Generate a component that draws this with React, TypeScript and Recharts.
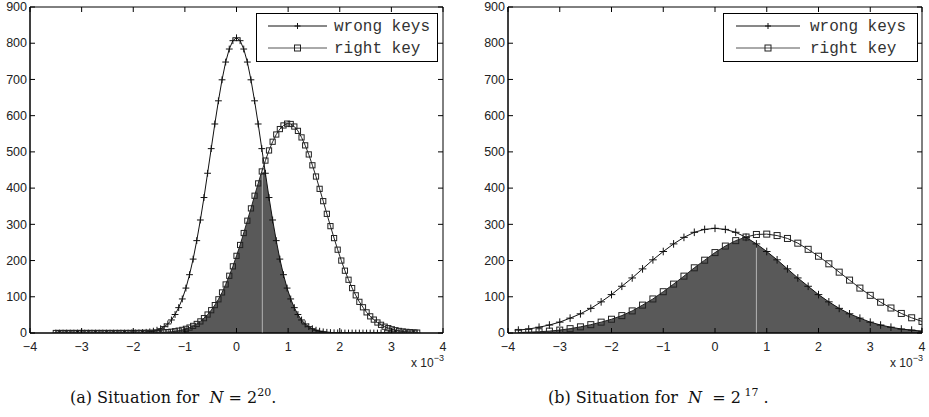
import React from "react";
import {
  ComposedChart, Line, Area, XAxis, YAxis,
  ReferenceLine, ReferenceArea
} from "recharts";

// (a) N = 2^20, x in units of 1e-3
const leftX = [
  -3.5, -3.43, -3.36, -3.29, -3.22, -3.15, -3.08, -3.01, -2.94, -2.87,
  -2.8, -2.73, -2.66, -2.59, -2.52, -2.45, -2.38, -2.31, -2.24, -2.17,
  -2.1, -2.03, -1.96, -1.89, -1.82, -1.75, -1.68, -1.61, -1.54, -1.47,
  -1.4, -1.33, -1.26, -1.19, -1.12, -1.05, -0.98, -0.91, -0.84, -0.77,
  -0.7, -0.63, -0.56, -0.49, -0.42, -0.35, -0.28, -0.21, -0.14, -0.07,
  0,
  0.07, 0.14, 0.21, 0.28, 0.35, 0.42, 0.49, 0.56, 0.63, 0.7,
  0.77, 0.84, 0.91, 0.98, 1.05, 1.12, 1.19, 1.26, 1.33, 1.4,
  1.47, 1.54, 1.61, 1.68, 1.75, 1.82, 1.89, 1.96, 2.03, 2.1,
  2.17, 2.24, 2.31, 2.38, 2.45, 2.52, 2.59, 2.66, 2.73, 2.8,
  2.87, 2.94, 3.01, 3.08, 3.15, 3.22, 3.29, 3.36, 3.43, 3.5,
];
const leftWrong = [
  0, 0, 0, 0, 0, 0, 0, 0, 0, 0,
  0, 0, 0, 0, 0, 0, 0, 0, 0, 0,
  0.1, 0.3, 0.4, 0.7, 1.2, 2, 3.2, 5.1, 7.8, 11.8,
  17.5, 25, 36, 51, 70, 94, 124, 161, 204, 255,
  312, 374, 441, 509, 577, 641, 699, 748, 784, 807,
  815,
  807, 784, 748, 699, 641, 577, 509, 441, 374, 312,
  255, 204, 161, 124, 94, 70, 51, 36, 25, 17.5,
  11.8, 7.8, 5.1, 3.2, 2, 1.2, 0.7, 0.4, 0.3, 0.1,
  0, 0, 0, 0, 0, 0, 0, 0, 0, 0,
  0, 0, 0, 0, 0, 0, 0, 0, 0, 0,
];
const leftRight = [
  0, 0, 0, 0, 0, 0, 0, 0, 0, 0,
  0, 0, 0, 0, 0, 0, 0, 0, 0, 0,
  0, 0, 0.1, 0.1, 0.2, 0.3, 0.4, 0.6, 0.9, 1.3,
  1.8, 2.5, 3.5, 4.8, 6.5, 8.6, 11.5, 15, 19.6, 25,
  32, 41, 51, 63, 77, 93, 112, 134, 158, 184,
  213,
  243, 276, 310, 344, 379, 413, 446, 476, 504, 528,
  548, 563, 573, 578, 577, 570, 558, 540, 518, 493,
  463, 432, 398, 364, 329, 295, 262, 230, 200, 172,
  147, 124, 104, 86, 71, 57, 46, 37, 29, 22.6,
  17.5, 13.4, 10.2, 7.6, 5.7, 4.2, 3.1, 2.2, 1.6, 1.1,
];
const leftCut = { x: 0.5, y: 450 };

// (b) N = 2^17
const rightX = [
  -3.8, -3.6, -3.4, -3.2, -3, -2.8, -2.6, -2.4, -2.2, -2,
  -1.8, -1.6, -1.4, -1.2, -1, -0.8, -0.6, -0.4, -0.2, 0,
  0.2, 0.4, 0.6, 0.8, 1, 1.2, 1.4, 1.6, 1.8, 2,
  2.2, 2.4, 2.6, 2.8, 3, 3.2, 3.4, 3.6, 3.8, 4,
];
const rightWrong = [
  8, 11, 16, 22, 30, 41, 53, 68, 86, 106,
  129, 152, 177, 202, 225, 246, 264, 278, 286, 289,
  286, 278, 264, 246, 225, 202, 177, 152, 129, 106,
  86, 68, 53, 41, 30, 22, 16, 11, 8, 5,
];
const rightRight = [
  1.5, 2.3, 3.5, 5.2, 8, 12, 17, 23, 30, 38,
  48, 61, 77, 94, 114, 135, 157, 180, 201, 222,
  240, 255, 265, 272, 273, 269, 261, 248, 231, 212,
  191, 168, 146, 124, 104, 85, 69, 54, 42, 32,
];
const rightCut = { x: 0.8, y: 246 };

const xTicks = [-4, -3, -2, -1, 0, 1, 2, 3, 4];
const yTicks = [0, 100, 200, 300, 400, 500, 600, 700, 800, 900];

const TICK = 5;
const AXIS_FONT = '"Liberation Sans", Arial, sans-serif';
const SHADE = "#595959";

function buildRows(xs: number[], wrong: number[], right: number[]) {
  return xs.map((x, i) => ({
    x,
    wrong: wrong[i],
    right: right[i],
    overlap: Math.min(wrong[i], right[i]),
  }));
}

function fmt(v: number) {
  return v < 0 ? `\u2212${Math.abs(v)}` : `${v}`;
}

function PlusMark({ cx, cy, r = 3.4 }: { cx: number; cy: number; r?: number }) {
  return (
    <path d={`M${cx - r},${cy}H${cx + r}M${cx},${cy - r}V${cy + r}`} stroke="#111" strokeWidth={1} fill="none" />
  );
}

function SquareMark({ cx, cy, r = 2.7 }: { cx: number; cy: number; r?: number }) {
  return (
    <rect x={cx - r} y={cy - r} width={2 * r} height={2 * r} stroke="#222" strokeWidth={1} fill="none" />
  );
}

const makeXTick = (top: number) => (p: any) => (
  <g>
    <line x1={p.x} y1={p.y} x2={p.x} y2={p.y - TICK} stroke="#000" />
    <line x1={p.x} y1={top} x2={p.x} y2={top + TICK} stroke="#000" />
    <text x={p.x} y={p.y + 18} textAnchor="middle" fontSize={12.5} fontFamily={AXIS_FONT} fill="#222">
      {fmt(p.payload.value)}
    </text>
  </g>
);

const makeYTick = (right: number) => (p: any) => (
  <g>
    <line x1={p.x} y1={p.y} x2={p.x + TICK} y2={p.y} stroke="#000" />
    <line x1={right} y1={p.y} x2={right - TICK} y2={p.y} stroke="#000" />
    <text x={p.x - 3} y={p.y} dy="0.34em" textAnchor="end" fontSize={12.5} fontFamily={AXIS_FONT} fill="#222">
      {fmt(p.payload.value)}
    </text>
  </g>
);

interface PanelProps {
  rows: ReturnType<typeof buildRows>;
  cut: { x: number; y: number };
  width: number;
  height: number;
  margin: { top: number; right: number; bottom: number; left: number };
  yAxisWidth: number;
  markSize: number;
}

function Panel({ rows, cut, width, height, margin, yAxisWidth, markSize }: PanelProps) {
  const right = width - margin.right;
  return (
    <ComposedChart width={width} height={height} data={rows} margin={margin}>
      <XAxis
        type="number" dataKey="x" domain={[-4, 4]} ticks={xTicks} interval={0}
        height={30} tickSize={0} tickMargin={0} tickLine={false}
        axisLine={{ stroke: "#000" }} tick={makeXTick(margin.top)} allowDataOverflow
      />
      <YAxis
        type="number" domain={[0, 900]} ticks={yTicks} interval={0}
        width={yAxisWidth} tickSize={0} tickMargin={0} tickLine={false}
        axisLine={{ stroke: "#000" }} tick={makeYTick(right)} allowDataOverflow
      />
      <Area
        dataKey="overlap" type="linear" fill={SHADE} fillOpacity={1} stroke="none"
        isAnimationActive={false} dot={false} activeDot={false}
      />
      <ReferenceLine segment={[{ x: cut.x, y: 0 }, { x: cut.x, y: cut.y }]} stroke="#b4b4b4" strokeWidth={1} />
      <Line
        dataKey="wrong" type="linear" stroke="#111" strokeWidth={1} isAnimationActive={false}
        activeDot={false}
        dot={(p: any) => <PlusMark key={`w${p.index}`} cx={p.cx} cy={p.cy} r={markSize + 0.8} />}
      />
      <Line
        dataKey="right" type="linear" stroke="#222" strokeWidth={1} isAnimationActive={false}
        activeDot={false}
        dot={(p: any) => <SquareMark key={`r${p.index}`} cx={p.cx} cy={p.cy} r={markSize} />}
      />
      <ReferenceArea x1={-4} x2={4} y1={0} y2={900} fill="none" stroke="#000" strokeWidth={1} />
    </ComposedChart>
  );
}

function LegendBox({ left, width, lineX1, lineX2, textX }: { left: number; width: number; lineX1: number; lineX2: number; textX: number }) {
  const mid = (lineX1 + lineX2) / 2;
  return (
    <div style={{ position: "absolute", left, top: 13, width, height: 49, border: "1px solid #000", background: "#fff", boxSizing: "border-box" }}>
      <svg width={width} height={49} style={{ position: "absolute", left: -1, top: -1 }}>
        <line x1={lineX1} x2={lineX2} y1={13} y2={13} stroke="#111" />
        <PlusMark cx={mid} cy={13} r={3} />
        <line x1={lineX1} x2={lineX2} y1={35} y2={35} stroke="#555" />
        <SquareMark cx={mid} cy={35} r={3} />
        <text x={textX} y={13} dy="0.32em" fontSize={16} fontFamily='"Liberation Mono", monospace' fill="#333">wrong keys</text>
        <text x={textX} y={35} dy="0.32em" fontSize={16} fontFamily='"Liberation Mono", monospace' fill="#333">right key</text>
      </svg>
    </div>
  );
}

function Scale({ left }: { left: number }) {
  return (
    <div style={{ position: "absolute", left, top: 356, fontFamily: AXIS_FONT, fontSize: 12, color: "#222", lineHeight: "14px", whiteSpace: "nowrap" }}>
      x 10<span style={{ position: "relative", top: -6, fontSize: 9 }}>{"\u22123"}</span>
    </div>
  );
}

const captionStyle: React.CSSProperties = {
  position: "absolute", top: 387, fontFamily: '"DejaVu Serif", "Liberation Serif", serif',
  fontSize: 16, color: "#111", lineHeight: "22px", whiteSpace: "nowrap",
};

export default function App() {
  const leftRows = buildRows(leftX, leftWrong, leftRight);
  const rightRows = buildRows(rightX, rightWrong, rightRight);
  return (
    <div style={{ position: "absolute", left: 0, top: 0, width: 929, height: 417, background: "#fff", overflow: "hidden" }}>
      <div style={{ position: "absolute", left: 0, top: 0 }}>
        <Panel rows={leftRows} cut={leftCut} width={465} height={380}
          margin={{ top: 7, right: 22, bottom: 17, left: 0 }} yAxisWidth={30} markSize={2.6} />
      </div>
      <div style={{ position: "absolute", left: 470, top: 0 }}>
        <Panel rows={rightRows} cut={rightCut} width={459} height={380}
          margin={{ top: 7, right: 7, bottom: 17, left: 0 }} yAxisWidth={38} markSize={3} />
      </div>
      <LegendBox left={256} width={182} lineX1={12} lineX2={71} textX={78} />
      <LegendBox left={723} width={195} lineX1={13} lineX2={77} textX={87} />
      <Scale left={411} />
      <Scale left={890} />
      <div style={{ ...captionStyle, left: 70 }}>
        (a) Situation for&nbsp;&nbsp;<i>N</i> = 2<span style={{ position: "relative", top: -7, fontSize: 11 }}>20</span>.
      </div>
      <div style={{ ...captionStyle, left: 548 }}>
        (b) Situation for&nbsp;&nbsp;<i>N</i> &nbsp;= 2<span style={{ position: "relative", top: -7, fontSize: 11 }}>&nbsp;17</span>&nbsp;.
      </div>
    </div>
  );
}
